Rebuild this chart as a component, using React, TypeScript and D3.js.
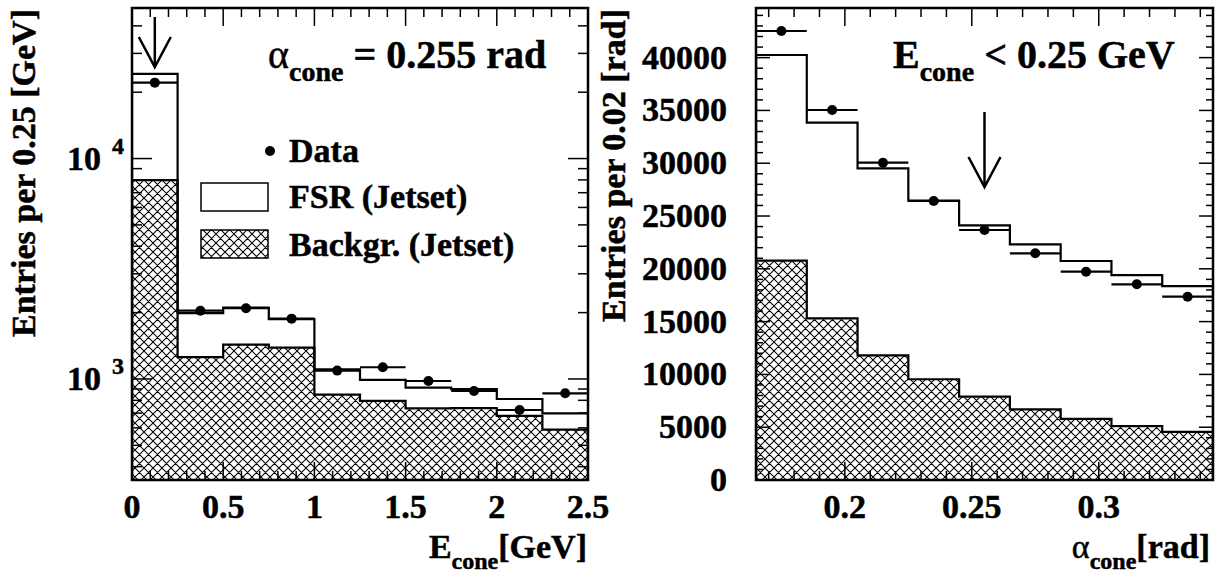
import React from 'react';
import * as d3 from 'd3';

// ---------- Data: left panel (E_cone, log scale) ----------
const eEdges = [0, 0.25, 0.5, 0.75, 1, 1.25, 1.5, 1.75, 2, 2.25, 2.5];
const eTotal = [24200, 1990, 2110, 1870, 1105, 990, 913, 900, 811, 698];
const eData = [22100, 2040, 2095, 1878, 1091, 1130, 979, 882, 723, 861];
const eBackground = [7980, 1255, 1431, 1387, 849, 795, 736, 738, 680, 589];
const eTickValues = [0, 0.5, 1, 1.5, 2, 2.5];
const eTickLabels = ['0', '0.5', '1', '1.5', '2', '2.5'];
const eLogLabelExponents = [3, 4];
const eArrowAt = 0.125;

// ---------- Data: right panel (alpha_cone, linear scale) ----------
const aEdges = [0.165, 0.185, 0.205, 0.225, 0.245, 0.265, 0.285, 0.305, 0.325, 0.345];
const aTotal = [40250, 33840, 29520, 26450, 24120, 22320, 20740, 19410, 18370];
const aData = [42520, 35040, 30050, 26420, 23675, 21470, 19730, 18530, 17360];
const aBackground = [20770, 15310, 11810, 9540, 7890, 6690, 5780, 5110, 4550];
const aTickValues = [0.2, 0.25, 0.3];
const aTickLabels = ['0.2', '0.25', '0.3'];
const countTickValues = [0, 5000, 10000, 15000, 20000, 25000, 30000, 35000, 40000];
const countTickLabels = ['0', '5000', '10000', '15000', '20000', '25000', '30000', '35000', '40000'];
const aArrowAt = 0.255;

const FONT = "'Liberation Serif', 'Times New Roman', serif";

type Scale = (v: number) => number;

function stepPath(edges: number[], vals: number[], x: Scale, y: Scale, base: number): string {
  const pts: [number, number][] = [[edges[0], base]];
  vals.forEach((v, i) => {
    pts.push([edges[i], v]);
    pts.push([edges[i + 1], v]);
  });
  pts.push([edges[edges.length - 1], base]);
  return d3.line<[number, number]>().x((d) => x(d[0])).y((d) => y(d[1]))(pts) || '';
}

function Arrow({ x, y0, y1 }: { x: number; y0: number; y1: number }) {
  return (
    <g stroke="#000" strokeWidth={2.5} fill="none">
      <line x1={x} y1={y0} x2={x} y2={y1} />
      <polyline points={`${x - 16},${y1 - 30} ${x},${y1} ${x + 16},${y1 - 30}`} />
    </g>
  );
}

export default function App() {
  // Left panel scales
  const L = { x0: 132, x1: 588, y0: 8, y1: 480 };
  const ex = d3.scaleLinear().domain([0, 2.5]).range([L.x0, L.x1]);
  const ey = d3.scaleLog().domain([348, 48200]).range([L.y1, L.y0]);
  const eBase = ey.domain()[0];

  // Right panel scales
  const R = { x0: 756, x1: 1213, y0: 8, y1: 480 };
  const ax = d3.scaleLinear().domain([0.165, 0.345]).range([R.x0, R.x1]);
  const ay = d3.scaleLinear().domain([0, 44700]).range([R.y1, R.y0]);

  const eMinorX = d3.range(0, 2.5001, 0.1).filter((v) => Math.abs(v * 2 - Math.round(v * 2)) > 1e-6);
  const aMinorX = d3.range(0.17, 0.3451, 0.01).filter((v) => Math.abs(v * 20 - Math.round(v * 20)) > 1e-6);
  const eLogTicks = ey.ticks();
  const aMinorY = d3.range(0, 44701, 1000).filter((v) => v % 5000 !== 0);

  const textStyle = {
    fontFamily: FONT,
    fontWeight: 'bold' as const,
    stroke: '#000',
    strokeWidth: 0.5,
  };

  const xTicks = (P: typeof L, xs: number[], len: number, key: string) =>
    xs.map((v, i) => (
      <g key={key + i}>
        <line x1={v} x2={v} y1={P.y1} y2={P.y1 - len} />
        <line x1={v} x2={v} y1={P.y0} y2={P.y0 + len} />
      </g>
    ));
  const yTicks = (P: typeof L, ys: number[], len: number, key: string) =>
    ys.map((v, i) => (
      <g key={key + i}>
        <line x1={P.x0} x2={P.x0 + len} y1={v} y2={v} />
        <line x1={P.x1} x2={P.x1 - len} y1={v} y2={v} />
      </g>
    ));

  return (
    <svg
      width={1217}
      height={576}
      style={{ position: 'absolute', left: 0, top: 0, display: 'block', background: '#fff' }}
    >
      <defs>
        <pattern id="hatch" patternUnits="userSpaceOnUse" width={9} height={9}>
          <path d="M0,0 L9,9 M9,0 L0,9 M-1,8 L1,10 M8,-1 L10,1 M-1,1 L1,-1 M8,10 L10,8" stroke="#000" strokeWidth={1.05} />
        </pattern>
        <clipPath id="clipL">
          <rect x={L.x0} y={L.y0} width={L.x1 - L.x0} height={L.y1 - L.y0} />
        </clipPath>
        <clipPath id="clipR">
          <rect x={R.x0} y={R.y0} width={R.x1 - R.x0} height={R.y1 - R.y0} />
        </clipPath>
      </defs>
      <rect x={0} y={0} width={1217} height={576} fill="#fff" />

      {/* ================= LEFT PANEL ================= */}
      <g clipPath="url(#clipL)">
        <path d={stepPath(eEdges, eTotal, ex, ey, eBase)} fill="#fff" stroke="#000" strokeWidth={2.2} />
        <path d={stepPath(eEdges, eBackground, ex, ey, eBase)} fill="url(#hatch)" stroke="#000" strokeWidth={2.2} />
        {eData.map((v, i) => (
          <g key={'ed' + i}>
            <line x1={ex(eEdges[i])} x2={ex(eEdges[i + 1])} y1={ey(v)} y2={ey(v)} stroke="#000" strokeWidth={2.2} />
            <circle cx={ex((eEdges[i] + eEdges[i + 1]) / 2)} cy={ey(v)} r={5} fill="#000" />
          </g>
        ))}
      </g>
      <g stroke="#000" strokeWidth={1.5}>
        {xTicks(L, eTickValues.map(ex), 18, 'exM')}
        {xTicks(L, eMinorX.map(ex), 9, 'exm')}
        {yTicks(
          L,
          eLogTicks.filter((v) => Math.abs(Math.log10(v) - Math.round(Math.log10(v))) < 1e-9).map(ey),
          20,
          'eyM'
        )}
        {yTicks(
          L,
          eLogTicks.filter((v) => Math.abs(Math.log10(v) - Math.round(Math.log10(v))) >= 1e-9).map(ey),
          10,
          'eym'
        )}
      </g>
      <rect x={L.x0} y={L.y0} width={L.x1 - L.x0} height={L.y1 - L.y0} fill="none" stroke="#000" strokeWidth={2.5} />
      <Arrow x={ex(eArrowAt)} y0={17} y1={67} />

      {/* left x tick labels */}
      {eTickValues.map((v, i) => (
        <text key={'exl' + i} x={ex(v)} y={518} textAnchor="middle" fontSize={34} style={textStyle}>
          {eTickLabels[i]}
        </text>
      ))}
      {/* left y tick labels 10^n */}
      {eLogLabelExponents.map((p) => {
        const yy = ey(Math.pow(10, p));
        return (
          <g key={'eyl' + p}>
            <text x={101} y={yy + 11} textAnchor="end" fontSize={34} style={textStyle}>10</text>
            <text x={112} y={yy - 5} fontSize={24} style={textStyle}>{p}</text>
          </g>
        );
      })}
      {/* left axis titles */}
      <text transform="translate(35,9) rotate(-90)" textAnchor="end" fontSize={34} style={textStyle}>
        Entries per 0.25 [GeV]
      </text>
      <text x={587} y={558} textAnchor="end" fontSize={34} style={textStyle}>
        E<tspan fontSize={24} dy={11}>cone</tspan>
        <tspan dy={-11}>[GeV]</tspan>
      </text>
      {/* annotation */}
      <text x={268} y={68} fontSize={40} style={textStyle}>
        <tspan fontWeight="normal">α</tspan>
        <tspan fontSize={28} dy={13}>cone</tspan>
        <tspan dy={-13}> = 0.255 rad</tspan>
      </text>
      {/* legend */}
      <circle cx={270} cy={151} r={5} fill="#000" />
      <text x={289} y={162} fontSize={34} style={textStyle}>Data</text>
      <rect x={201} y={183} width={67} height={28} fill="#fff" stroke="#000" strokeWidth={1.5} />
      <text x={289} y={208} fontSize={34} style={textStyle}>FSR (Jetset)</text>
      <rect x={201} y={230} width={67} height={28} fill="url(#hatch)" stroke="#000" strokeWidth={1.5} />
      <text x={289} y={256} fontSize={34} style={textStyle}>Backgr. (Jetset)</text>

      {/* ================= RIGHT PANEL ================= */}
      <g clipPath="url(#clipR)">
        <path d={stepPath(aEdges, aTotal, ax, ay, 0)} fill="#fff" stroke="#000" strokeWidth={2.2} />
        <path d={stepPath(aEdges, aBackground, ax, ay, 0)} fill="url(#hatch)" stroke="#000" strokeWidth={2.2} />
        {aData.map((v, i) => (
          <g key={'ad' + i}>
            <line x1={ax(aEdges[i])} x2={ax(aEdges[i + 1])} y1={ay(v)} y2={ay(v)} stroke="#000" strokeWidth={2.2} />
            <circle cx={ax((aEdges[i] + aEdges[i + 1]) / 2)} cy={ay(v)} r={5} fill="#000" />
          </g>
        ))}
      </g>
      <g stroke="#000" strokeWidth={1.5}>
        {xTicks(R, aTickValues.map(ax), 18, 'axM')}
        {xTicks(R, aMinorX.map(ax), 9, 'axm')}
        {yTicks(R, countTickValues.map(ay), 14, 'ayM')}
        {yTicks(R, aMinorY.map(ay), 7, 'aym')}
      </g>
      <rect x={R.x0} y={R.y0} width={R.x1 - R.x0} height={R.y1 - R.y0} fill="none" stroke="#000" strokeWidth={2.5} />
      <Arrow x={ax(aArrowAt)} y0={112} y1={187} />

      {aTickValues.map((v, i) => (
        <text key={'axl' + i} x={ax(v)} y={518} textAnchor="middle" fontSize={34} style={textStyle}>
          {aTickLabels[i]}
        </text>
      ))}
      {countTickValues.map((v, i) => (
        <text key={'ayl' + i} x={727} y={ay(v) + 11} textAnchor="end" fontSize={34} style={textStyle}>
          {countTickLabels[i]}
        </text>
      ))}
      <text transform="translate(625,9) rotate(-90)" textAnchor="end" fontSize={34} style={textStyle}>
        Entries per 0.02 [rad]
      </text>
      <text x={1210} y={558} textAnchor="end" fontSize={34} style={textStyle}>
        <tspan fontWeight="normal">α</tspan>
        <tspan fontSize={24} dy={11}>cone</tspan>
        <tspan dy={-11}>[rad]</tspan>
      </text>
      <text x={893} y={68} fontSize={40} style={textStyle}>
        E<tspan fontSize={28} dy={13}>cone</tspan>
        <tspan dy={-13}> &lt; 0.25 GeV</tspan>
      </text>
    </svg>
  );
}
